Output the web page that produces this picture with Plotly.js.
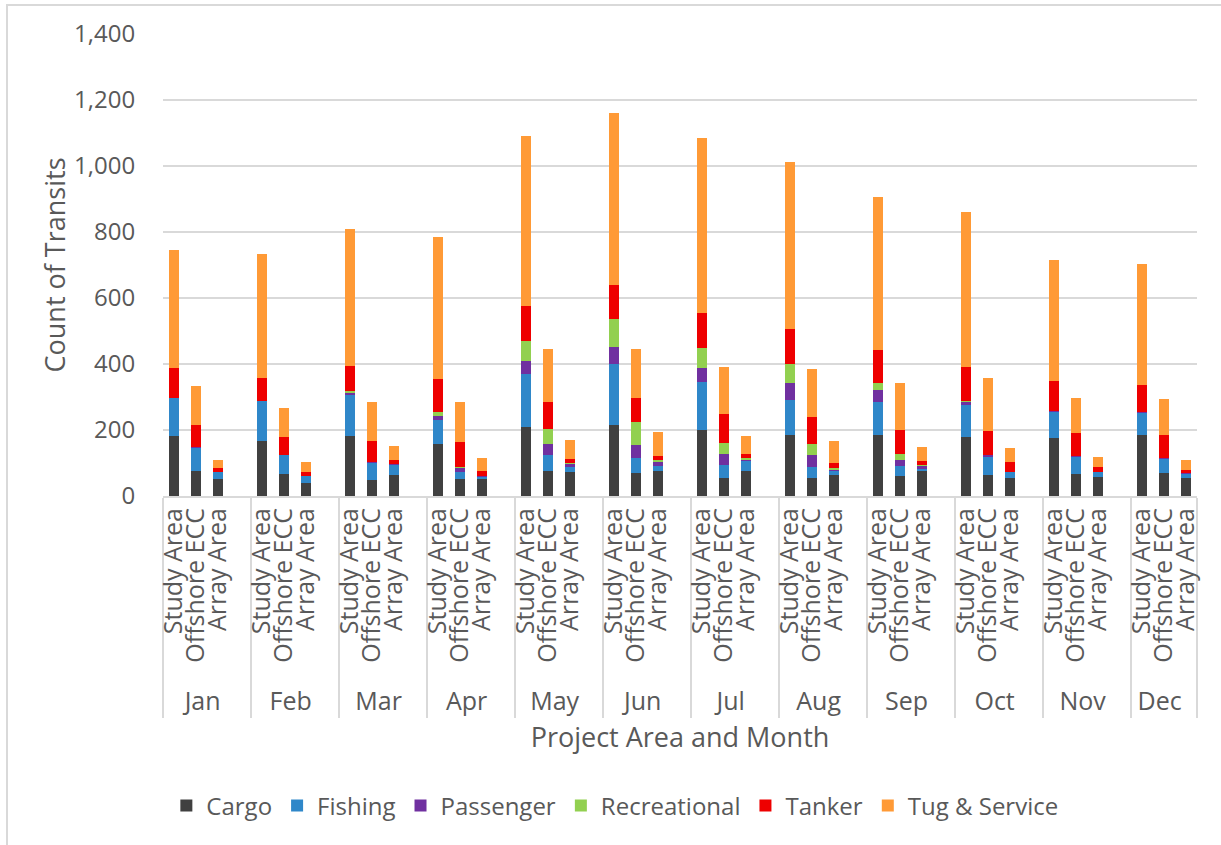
<!DOCTYPE html>
<html>
<head>
<meta charset="utf-8">
<script src="https://cdn.plot.ly/plotly-3.0.1.min.js"></script>
<style>
  html, body { margin: 0; padding: 0; background: #ffffff; overflow: hidden; }
  #chart { position: absolute; left: 0; top: 0; width: 1221px; height: 845px; }
  #frame {
    position: absolute; left: 6px; top: 4px; width: 1400px; height: 1000px;
    border-top: 2px solid #d9d9d9; border-left: 2px solid #d9d9d9;
    pointer-events: none; z-index: 5;
  }
</style>
</head>
<body>
<div id="chart"></div>
<div id="frame"></div>
<script>
// Monthly vessel transits by project area, stacked by vessel type
const months = ["Jan", "Feb", "Mar", "Apr", "May", "Jun", "Jul", "Aug", "Sep", "Oct", "Nov", "Dec"];
const areas = ["Study Area", "Offshore ECC", "Array Area"];

// Values ordered month by month: [Study Area, Offshore ECC, Array Area]
const cargo = [
  181, 76, 53,   166, 68, 40,   181, 49, 64,   159, 51, 51,
  210, 77, 73,   214, 69, 77,   200, 56, 75,   185, 56, 64,
  185, 60, 76,   180, 63, 56,   176, 67, 59,   184, 71, 56
];
const fishing = [
  117, 70, 19,   121, 55, 20,   125, 51, 31,   70, 23, 8,
  159, 47, 16,   186, 47, 15,   144, 39, 31,   105, 31, 12,
  101, 31, 7,    97, 56, 16,    80, 52, 13,    67, 42, 11
];
const passenger = [
  0, 3, 1,     0, 2, 0,     7, 3, 3,     12, 11, 3,
  39, 35, 7,   51, 39, 12,  44, 32, 4,   51, 36, 4,
  35, 19, 8,   8, 4, 2,     2, 2, 2,     3, 1, 2
];
const recreational = [
  0, 0, 0,     0, 0, 0,     4, 0, 0,     15, 4, 0,
  63, 43, 5,   85, 70, 4,   62, 34, 4,   58, 35, 4,
  22, 17, 2,   4, 0, 0,     0, 0, 0,     0, 0, 0
];
const tanker = [
  89, 67, 12,   70, 54, 12,   78, 63, 10,   99, 74, 15,
  105, 82, 11,  102, 71, 13,  106, 86, 13,  106, 82, 15,
  100, 73, 14,  101, 74, 28,  89, 71, 13,   82, 70, 11
];
const tug = [
  359, 117, 24,  377, 89, 31,   413, 120, 45,  431, 121, 38,
  514, 160, 58,  522, 148, 73,  529, 144, 54,  506, 144, 67,
  462, 143, 43,  471, 162, 43,  367, 105, 31,  366, 109, 30
];

const seriesNames = ["Cargo", "Fishing", "Passenger", "Recreational", "Tanker", "Tug & Service"];
const seriesValues = [cargo, fishing, passenger, recreational, tanker, tug];
const seriesColors = ["#404040", "#2f87c9", "#7030a0", "#92d050", "#ee0000", "#ff9a36"];

// Each month carries an empty spacer slot after its three areas (except the last month)
const outer = [], inner = [], slotIndex = [];
months.forEach((m, mi) => {
  areas.forEach((a, ai) => { outer.push(m); inner.push(a); slotIndex.push(mi * areas.length + ai); });
  if (mi < months.length - 1) { outer.push(m); inner.push(" "); slotIndex.push(-1); }
});

const textColor = "#595959";
const fontFamily = "Open Sans, Noto Sans, sans-serif";

const traces = seriesNames.map((name, si) => ({
  type: "bar",
  name: name,
  x: [outer, inner],
  y: slotIndex.map(k => (k < 0 ? null : seriesValues[si][k])),
  marker: { color: seriesColors[si], line: { width: 0 } },
  hoverinfo: "name+y"
}));

const layout = {
  width: 1221,
  height: 845,
  margin: { l: 163, r: 24, t: 34, b: 349 },
  paper_bgcolor: "#ffffff",
  plot_bgcolor: "#ffffff",
  barmode: "stack",
  bargap: 0.59,
  font: { family: fontFamily, color: textColor, size: 24 },
  showlegend: true,
  legend: {
    orientation: "h",
    x: 0.437, xanchor: "center",
    y: -0.671, yanchor: "middle",
    traceorder: "normal",
    font: { family: fontFamily, color: textColor, size: 24 }
  },
  xaxis: {
    type: "multicategory",
    tickmode: "linear",
    tick0: 0,
    dtick: 1,
    showgrid: false,
    showline: true,
    linecolor: "#d9d9d9",
    linewidth: 2,
    ticks: "",
    tickangle: -90,
    tickfont: { family: fontFamily, color: textColor, size: 25 },
    showdividers: true,
    dividercolor: "#d9d9d9",
    dividerwidth: 2,
    title: { text: "Project Area and Month", font: { family: fontFamily, color: textColor, size: 27 }, standoff: 12 }
  },
  yaxis: {
    range: [0, 1400],
    dtick: 200,
    tickformat: ",d",
    showgrid: true,
    gridcolor: "#d9d9d9",
    gridwidth: 2,
    showline: false,
    zeroline: false,
    ticks: "outside",
    ticklen: 22,
    tickcolor: "rgba(0,0,0,0)",
    tickfont: { family: fontFamily, color: textColor, size: 24 },
    title: { text: "Count of Transits", font: { family: fontFamily, color: textColor, size: 27 }, standoff: 0 }
  }
};

Plotly.newPlot("chart", traces, layout, { displayModeBar: false, staticPlot: true });
</script>
</body>
</html>
